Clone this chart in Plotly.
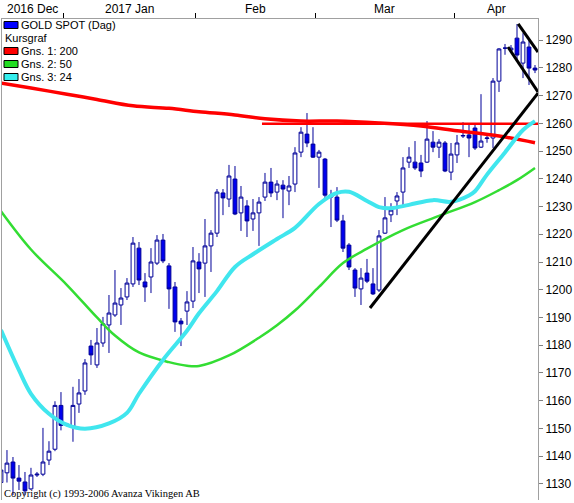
import pandas as pd
import plotly.graph_objects as go

# daily candles, weekdays from 2016-12-16
dates = pd.bdate_range("2016-12-16", periods=90)
open_ = [1130.5, 1134.0, 1137.9, 1132.1, 1130.7, 1128.2, 1133.2, 1133.5, 1138.6, 1142.5,
         1158.3, 1151.1, 1150.7, 1158.8, 1163.5, 1179.7, 1172.9, 1180.8, 1187.3, 1190.9,
         1194.5, 1197.4, 1202.1, 1215.0, 1202.8, 1204.6, 1209.6, 1217.9, 1208.6, 1201.0,
         1188.7, 1192.3, 1195.9, 1210.0, 1209.6, 1215.8, 1220.4, 1234.9, 1232.7, 1239.9,
         1227.7, 1230.2, 1225.5, 1227.7, 1233.4, 1238.8, 1235.2, 1237.7, 1235.6, 1238.1,
         1249.6, 1256.1, 1252.5, 1247.8, 1247.1, 1234.1, 1233.4, 1224.8, 1216.1, 1207.1,
         1200.3, 1206.0, 1202.1, 1199.9, 1220.4, 1227.0, 1232.0, 1235.2, 1246.0, 1246.0,
         1245.7, 1246.0, 1253.2, 1251.4, 1252.9, 1242.4, 1248.6, 1255.4, 1255.8, 1258.3,
         1251.4, 1254.5, 1254.7, 1275.2, 1287.1, 1286.4, 1290.7, 1281.7, 1287.5, 1279.9]
high = [1141.0, 1142.2, 1139.7, 1136.8, 1134.3, 1135.8, 1134.3, 1150.2, 1145.4, 1159.8,
        1163.1, 1152.0, 1165.0, 1167.8, 1175.0, 1181.9, 1186.2, 1190.2, 1198.1, 1207.1,
        1200.6, 1204.2, 1219.0, 1217.2, 1206.0, 1215.0, 1219.7, 1220.1, 1209.6, 1202.8,
        1189.8, 1199.5, 1215.4, 1213.2, 1225.5, 1221.5, 1236.3, 1236.3, 1245.0, 1244.6,
        1237.4, 1232.3, 1232.7, 1233.4, 1242.1, 1243.9, 1239.5, 1239.5, 1241.0, 1251.4,
        1258.6, 1263.7, 1258.6, 1250.4, 1247.5, 1236.0, 1237.0, 1227.0, 1216.8, 1207.8,
        1207.8, 1211.1, 1207.8, 1221.5, 1233.4, 1231.2, 1235.2, 1247.8, 1251.4, 1253.6,
        1248.6, 1260.8, 1257.2, 1254.3, 1253.6, 1252.9, 1255.8, 1260.4, 1260.1, 1260.1,
        1270.5, 1256.5, 1276.3, 1287.1, 1288.6, 1288.2, 1295.8, 1292.5, 1290.0, 1281.0]
low = [1128.0, 1130.5, 1126.0, 1127.8, 1126.0, 1127.8, 1132.5, 1132.8, 1136.8, 1141.8,
       1149.3, 1150.8, 1145.2, 1155.6, 1162.1, 1172.9, 1171.8, 1179.4, 1177.2, 1190.2,
       1187.3, 1196.3, 1201.0, 1201.7, 1195.6, 1198.8, 1208.9, 1209.6, 1193.1, 1184.8,
       1179.7, 1187.3, 1193.4, 1198.8, 1197.4, 1206.4, 1219.0, 1226.9, 1229.8, 1226.9,
       1221.2, 1219.0, 1221.2, 1215.8, 1232.0, 1233.4, 1232.3, 1225.8, 1230.5, 1235.2,
       1247.8, 1251.4, 1247.5, 1236.7, 1232.3, 1222.6, 1224.4, 1213.6, 1207.1, 1197.4,
       1194.5, 1202.4, 1198.1, 1199.2, 1220.1, 1224.4, 1226.9, 1230.5, 1243.9, 1243.2,
       1240.6, 1245.7, 1249.6, 1247.5, 1242.4, 1239.5, 1245.7, 1254.7, 1247.8, 1250.4,
       1251.1, 1253.0, 1251.1, 1271.3, 1284.7, 1285.7, 1282.8, 1276.3, 1273.8, 1278.1]
close = [1135.0, 1137.5, 1132.1, 1131.0, 1127.5, 1133.2, 1133.5, 1137.9, 1141.8, 1158.3,
         1151.1, 1151.5, 1158.3, 1162.8, 1173.6, 1176.5, 1180.8, 1187.7, 1191.6, 1195.2,
         1197.0, 1202.4, 1216.8, 1203.5, 1201.0, 1210.0, 1217.9, 1210.4, 1200.3, 1188.4,
         1187.7, 1195.6, 1210.4, 1207.5, 1215.8, 1220.4, 1235.2, 1233.1, 1241.0, 1227.3,
         1233.4, 1224.8, 1227.7, 1231.6, 1238.8, 1234.9, 1238.1, 1236.3, 1237.4, 1249.3,
         1256.8, 1252.9, 1247.8, 1249.6, 1234.1, 1233.4, 1225.1, 1215.0, 1208.2, 1200.6,
         1204.2, 1203.1, 1198.5, 1219.4, 1225.9, 1228.7, 1233.8, 1243.9, 1247.8, 1243.9,
         1242.8, 1254.3, 1251.4, 1253.2, 1242.8, 1248.9, 1252.9, 1255.6, 1254.7, 1251.1,
         1253.6, 1254.7, 1275.2, 1286.8, 1287.1, 1287.1, 1284.6, 1289.3, 1279.9, 1279.2]

# moving averages read at some candle positions (index into dates)
ma200_idx = [0, 5, 11, 16, 22, 28, 33, 39, 44, 50, 56, 63, 70, 76, 83, 89]
ma200_val = [1274.5, 1272.7, 1270.5, 1268.6, 1266.3, 1265.4, 1264.2, 1263.0, 1261.6,
             1260.8, 1260.8, 1260.1, 1259.0, 1257.3, 1255.4, 1253.0]
ma50_idx = [0, 5, 11, 16, 19, 23, 28, 31, 33, 38, 43, 46, 49, 53, 57, 61, 67, 73, 79, 83, 86, 89]
ma50_val = [1228.3, 1214.5, 1201.7, 1190.0, 1183.5, 1177.4, 1173.9, 1172.6, 1172.5, 1176.3,
            1182.7, 1187.2, 1192.5, 1201.0, 1209.6, 1214.8, 1221.5, 1226.6, 1231.6, 1235.9,
            1239.5, 1243.9]
ma24_idx = [0, 3, 5, 8, 11, 14, 18, 21, 23, 27, 31, 33, 36, 39, 42, 46, 49, 53, 56, 58,
            61, 63, 65, 68, 72, 75, 78, 79, 81, 84, 87, 89]
ma24_val = [1185.5, 1171.0, 1162.5, 1155.3, 1151.3, 1149.9, 1151.8, 1155.6, 1162.5, 1174.7,
            1185.2, 1191.5, 1199.5, 1208.2, 1212.8, 1218.3, 1222.3, 1230.9, 1234.9, 1235.3,
            1232.0, 1229.8, 1229.4, 1230.6, 1232.3, 1231.7, 1234.0, 1235.5, 1241.5, 1249.5,
            1257.6, 1260.8]

# drawn trend lines (index, price)
trend_up = [(61.5, 1193.4), (89.5, 1270.9)]
channel_top = [(86.2, 1295.8), (89.5, 1285.7)]
channel_bottom = [(84.5, 1287.5), (89.5, 1271.3)]
resistance = [(43.5, 1259.8), (89.5, 1259.8)]

y_ticks = list(range(1130, 1291, 10))
month_names = {12: "2016 Dec", 1: "2017 Jan", 2: "Feb", 3: "Mar", 4: "Apr"}

x = list(range(len(dates)))
x_range = [0.17, 89.5]

fig = go.Figure()
fig.add_trace(go.Candlestick(
    x=x, open=open_, high=high, low=low, close=close,
    increasing=dict(line=dict(color="#000099", width=1), fillcolor="white"),
    decreasing=dict(line=dict(color="#000099", width=1), fillcolor="#0000EE"),
    whiskerwidth=0, showlegend=False, hoverinfo="skip"))

fig.add_trace(go.Scatter(x=ma200_idx, y=ma200_val, mode="lines", line_shape="spline",
                         line=dict(color="#FF0000", width=3.5), showlegend=False))
fig.add_trace(go.Scatter(x=[p[0] for p in resistance], y=[p[1] for p in resistance],
                         mode="lines", line=dict(color="#FF0000", width=2.5), showlegend=False))
fig.add_trace(go.Scatter(x=ma50_idx, y=ma50_val, mode="lines", line_shape="spline",
                         line=dict(color="#33DD33", width=2.5), showlegend=False))
fig.add_trace(go.Scatter(x=ma24_idx, y=ma24_val, mode="lines", line_shape="spline",
                         line=dict(color="#40E6EE", width=4), showlegend=False))
for tl in (trend_up, channel_top, channel_bottom):
    fig.add_trace(go.Scatter(x=[p[0] for p in tl], y=[p[1] for p in tl], mode="lines",
                             line=dict(color="black", width=3), showlegend=False))

# month boundaries and label centres
month_of = [d.month for d in dates]
bounds = [i - 0.5 for i in range(1, len(dates)) if month_of[i] != month_of[i - 1]]
edges = [x_range[0]] + bounds + [x_range[1]]
centres = [(edges[i] + edges[i + 1]) / 2 for i in range(len(edges) - 1)]
labels = [month_names[m] for m in dict.fromkeys(month_of)]

annotations = []
for c, lab in zip(centres, labels):
    annotations.append(dict(x=c, y=1.021, xref="x", yref="paper", text=lab, showarrow=False,
                            font=dict(size=12, color="black"), yanchor="middle"))


# pixel helpers for the legend box (plot area is 2..538 x 19..500)
def px(v):
    return (v - 2) / 536


def py(v):
    return (500 - v) / 481


legend_rows = [("GOLD SPOT (Dag)", "#0000FF", 25), ("Kursgraf", None, 38),
               ("Gns. 1: 200", "#FF0000", 51), ("Gns. 2: 50", "#22DD22", 64),
               ("Gns. 3: 24", "#33EEEE", 77)]
shapes = []
for text, col, yc in legend_rows:
    if col:
        shapes.append(dict(type="rect", xref="paper", yref="paper", x0=px(4), x1=px(18),
                           y0=py(yc - 3.5), y1=py(yc + 3.5), fillcolor=col,
                           line=dict(color="black", width=1)))
        tx = 19
    else:
        tx = 3
    annotations.append(dict(x=px(tx), y=py(yc), xref="paper", yref="paper", text=text,
                            showarrow=False, xanchor="left", yanchor="middle",
                            font=dict(size=11, color="black")))

annotations.append(dict(x=px(2), y=py(494), xref="paper", yref="paper",
                        text="Copyright (c) 1993-2006 Avanza Vikingen AB", showarrow=False,
                        xanchor="left", yanchor="middle",
                        font=dict(family="Liberation Serif", size=10.5, color="black")))

fig.update_layout(
    width=574, height=503,
    margin=dict(l=2, r=36, t=19, b=3, pad=0),
    paper_bgcolor="white", plot_bgcolor="white",
    font=dict(family="Liberation Sans, Arial", size=12, color="black"),
    boxgap=0.1,
    showlegend=False,
    annotations=annotations,
    shapes=shapes,
    xaxis=dict(range=x_range, side="top", tickvals=bounds, ticktext=[""] * len(bounds),
               ticks="outside", ticklen=5, tickcolor="black", showline=True,
               linecolor="#A0A0A0", showgrid=False, zeroline=False,
               rangeslider=dict(visible=False)),
    yaxis=dict(range=[1124.2, 1297.6], side="right", tickvals=y_ticks, ticks="outside",
               ticklen=4, tickcolor="#808080", showline=True, mirror=True,
               linecolor="#A0A0A0", showgrid=False, zeroline=False,
               tickfont=dict(size=12)),
)

# the page body has a default margin; drop it so the figure fills the window
fig.write_html("out.html", config={"displayModeBar": False},
               post_script="document.body.style.margin='0';")
